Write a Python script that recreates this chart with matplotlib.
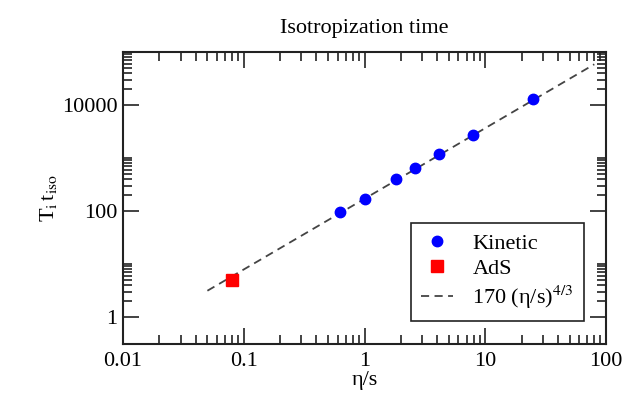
import matplotlib
matplotlib.use("Agg")
import matplotlib.pyplot as plt
import numpy as np
from matplotlib.ticker import FixedLocator, NullFormatter, FixedFormatter

plt.rcParams['font.family'] = ['Liberation Serif', 'DejaVu Serif']
plt.rcParams['mathtext.fontset'] = 'stix'

# Data
kinetic_x = [0.63, 1.0, 1.84, 2.64, 4.17, 7.94, 25.0]
kinetic_y = [96, 170, 400, 650, 1200, 2700, 13000]
ads_x = [0.0796]
ads_y = [5.0]
fit_coef = 170
fit_exp = 4.0 / 3.0
fit_range = [0.05, 80]

x_major = [0.01, 0.1, 1, 10, 100]
x_major_labels = ["0.01", "0.1", "1", "10", "100"]
y_major = [1, 100, 10000]
y_major_labels = ["1", "100", "10000"]

fig = plt.figure(figsize=(6.37, 3.96), dpi=100)
ax = fig.add_axes([123/637, 1 - 344/396, (606-123)/637, (344-52)/396])

xf = np.logspace(np.log10(fit_range[0]), np.log10(fit_range[1]), 200)
ax.plot(xf, fit_coef * xf**fit_exp, ls=(0, (4.5, 3)), color='#444444', lw=1.3,
        label=r'170 (η/s)$^{4/3}$', zorder=2)
ax.plot(kinetic_x, kinetic_y, 'o', color='#0000ff', ms=7.5, ls='none',
        label='Kinetic', zorder=3)
ax.plot(ads_x, ads_y, 's', color='#ff0000', ms=8, ls='none',
        label='AdS', zorder=3)

ax.set_xscale('log')
ax.set_yscale('log')
ax.set_xlim(0.01, 100)
ax.set_ylim(10**(-0.509), 1e5)

ax.xaxis.set_major_locator(FixedLocator(x_major))
ax.xaxis.set_major_formatter(FixedFormatter(x_major_labels))
xminor = [k * 10.0**e for e in range(-2, 2) for k in range(2, 10)]
ax.xaxis.set_minor_locator(FixedLocator(xminor))
ax.xaxis.set_minor_formatter(NullFormatter())

ax.yaxis.set_major_locator(FixedLocator(y_major))
ax.yaxis.set_major_formatter(FixedFormatter(y_major_labels))
yminor = [k * b for b in [1, 100, 10000] for k in range(2, 11)]
ax.yaxis.set_minor_locator(FixedLocator(yminor))
ax.yaxis.set_minor_formatter(NullFormatter())

ax.tick_params(which='both', direction='in', top=True, right=True,
               width=1.2, colors='#222222', labelcolor='black', labelsize=16)
ax.tick_params(which='major', length=11.5)
ax.tick_params(which='minor', length=6.5)
ax.tick_params(axis='x', which='major', pad=6)
ax.tick_params(axis='y', which='major', pad=4)
for s in ax.spines.values():
    s.set_linewidth(1.5)
    s.set_color('#222222')

ax.set_title('Isotropization time', fontsize=16, pad=14)
ax.set_xlabel('η/s', fontsize=16, labelpad=0)
ax.set_ylabel(r'T$_\mathrm{i}\,$t$_\mathrm{iso}$', fontsize=16, labelpad=2)

handles, labels = ax.get_legend_handles_labels()
order = [1, 2, 0]
leg = ax.legend([handles[i] for i in order], [labels[i] for i in order],
                loc='lower right', bbox_to_anchor=(0.954, 0.079),
                borderaxespad=0, fontsize=16, fancybox=False, framealpha=1,
                edgecolor='#222222', handlelength=1.45, handletextpad=0.85,
                labelspacing=0.2, borderpad=0.45)
leg.get_frame().set_linewidth(1.2)

fig.savefig('out.png', dpi=100)
